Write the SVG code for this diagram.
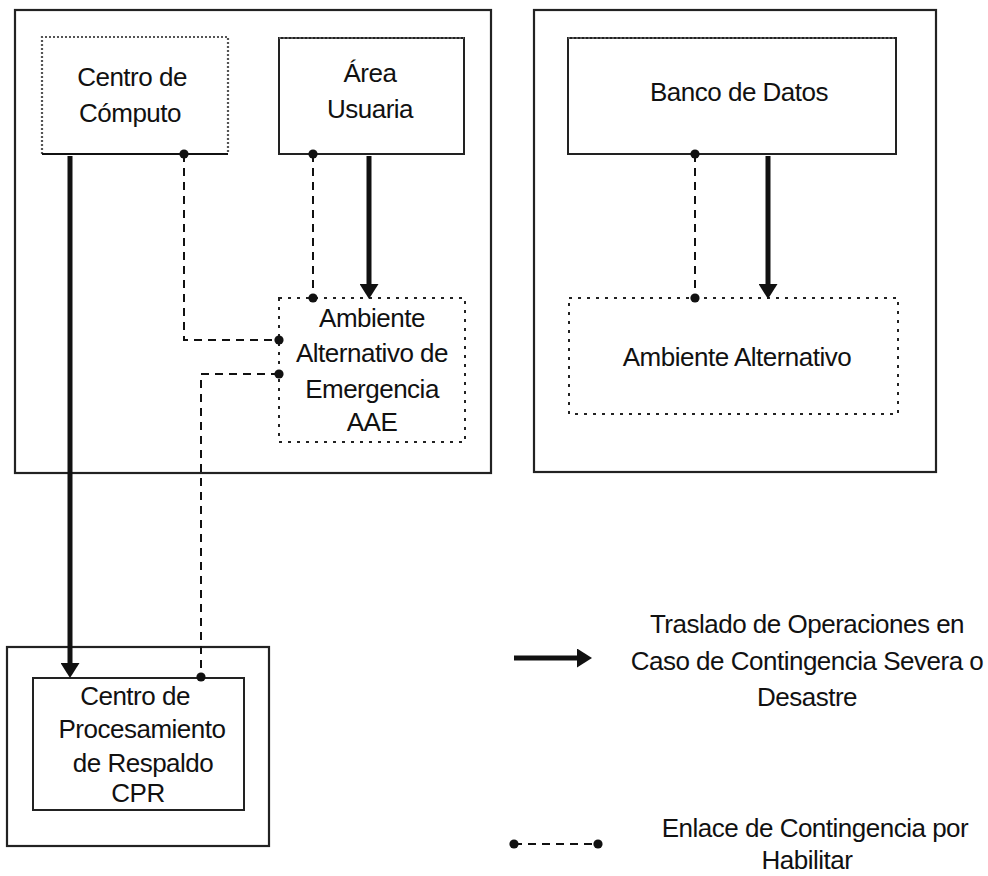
<svg xmlns="http://www.w3.org/2000/svg" width="988" height="876" viewBox="0 0 988 876">
  <defs>
    <marker id="head" viewBox="0 0 3 3.8" refX="0" refY="1.9" markerWidth="3" markerHeight="3.8" orient="auto" markerUnits="strokeWidth">
      <path d="M0,0 L3,1.9 L0,3.8 Z" fill="#111"/>
    </marker>
    <marker id="dot" viewBox="-3 -3 6 6" refX="0" refY="0" markerWidth="6" markerHeight="6" orient="auto" markerUnits="strokeWidth">
      <circle cx="0" cy="0" r="2.3" fill="#111"/>
    </marker>
  </defs>
  <style>
    text { font-family: "Liberation Sans", Arial, sans-serif; font-size: 26px; letter-spacing: -0.5px; fill: #111; text-anchor: middle; }
    .frame { fill: none; stroke: #222; stroke-width: 2.2; }
    .box { fill: #fff; stroke: #222; stroke-width: 2; }
    .dotted { fill: #fff; stroke: #222; stroke-width: 2; stroke-dasharray: 3 6; }
    .grey-dash { fill: none; stroke: #555; stroke-width: 2.2; stroke-dasharray: 2 2; }
    .move { fill: none; stroke: #111; stroke-width: 5; marker-end: url(#head); }
    .link { fill: none; stroke: #111; stroke-width: 2; stroke-dasharray: 8 6; marker-start: url(#dot); marker-end: url(#dot); }
  </style>

  <rect width="988" height="876" fill="#fff"/>

  <!-- site frames -->
  <rect id="frame-main" class="frame" x="15" y="10" width="476" height="463"/>
  <rect id="frame-datos" class="frame" x="534" y="10" width="402" height="462"/>
  <rect id="frame-cpr" class="frame" x="7" y="647" width="262" height="199"/>

  <g id="centro-computo">
    <rect x="42" y="37" width="186" height="117" fill="#fff"/>
    <path class="grey-dash" d="M42,154 L42,37 L228,37 L228,154"/>
    <line x1="42" y1="154" x2="228" y2="154" stroke="#111" stroke-width="2.2"/>
    <text x="132" y="86">Centro  de</text>
    <text x="130" y="122">Cómputo</text>
  </g>

  <g id="area-usuaria">
    <rect class="box" x="279" y="38" width="185" height="116"/>
    <line class="grey-dash" x1="279" y1="38" x2="464" y2="38"/>
    <text x="370" y="82">Área</text>
    <text x="370" y="118">Usuaria</text>
  </g>

  <g id="ambiente-aae">
    <rect class="dotted" x="279" y="298" width="186" height="144"/>
    <text x="372" y="327">Ambiente</text>
    <text x="372" y="362">Alternativo de</text>
    <text x="372" y="398">Emergencia</text>
    <text x="372" y="431">AAE</text>
  </g>

  <g id="banco-datos">
    <rect class="box" x="568" y="38" width="328" height="116"/>
    <line class="grey-dash" x1="568" y1="38" x2="896" y2="38"/>
    <text x="739" y="101">Banco de Datos</text>
  </g>

  <g id="ambiente-alternativo">
    <rect class="dotted" x="569" y="298" width="329" height="116"/>
    <text x="737" y="366">Ambiente Alternativo</text>
  </g>

  <g id="cpr">
    <rect class="box" x="33" y="678" width="211" height="132"/>
    <text x="135" y="705">Centro de</text>
    <text x="142" y="738">Procesamiento</text>
    <text x="143" y="772">de Respaldo</text>
    <text x="138" y="802">CPR</text>
  </g>

  <g id="connectors">
    <!-- transfer of operations -->
    <line class="move" x1="70" y1="156" x2="70" y2="663"/>
    <line class="move" x1="369" y1="156" x2="369" y2="284"/>
    <line class="move" x1="768" y1="156" x2="768" y2="284"/>
    <!-- contingency links -->
    <path class="link" d="M184,154 L184,340 L279,340"/>
    <path class="link" d="M313,154 L313,298"/>
    <path class="link" d="M279,374 L201,374 L201,677"/>
    <path class="link" d="M695,154 L695,298"/>
  </g>

  <g id="legend">
    <line class="move" x1="514" y1="658" x2="577" y2="658" stroke-width="7"/>
    <text x="807" y="633">Traslado de Operaciones en</text>
    <text x="807" y="670">Caso de Contingencia Severa o</text>
    <text x="807" y="706">Desastre</text>
    <path class="link" d="M514,844 L598,844"/>
    <text x="815" y="837">Enlace de Contingencia por</text>
    <text x="807" y="869">Habilitar</text>
  </g>
</svg>
